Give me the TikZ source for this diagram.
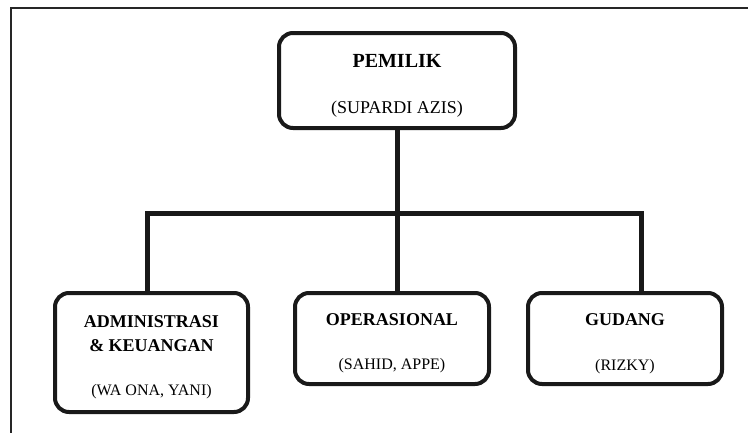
\documentclass[tikz,border=0pt]{standalone}
\usepackage{fontspec}
\setmainfont{Liberation Serif}
\usetikzlibrary{positioning,calc}

\begin{document}
\begin{tikzpicture}[x=1pt, y=-1pt,
        box/.style={rectangle, draw=black!90, line width=4pt, rounded corners=14pt,
            align=center, inner sep=0pt, fill=white},
        conn/.style={draw=black!90, line width=5pt}]

    \useasboundingbox (0,0) rectangle (748,432);
    % outer frame
    \draw[line width=2pt, black!85] (11,8) rectangle (770,460);

    \node[box, minimum width=236pt, minimum height=95pt,
        font=\fontsize{18}{24}\selectfont] (owner) at (397,80.5)
        {\rule{0pt}{24pt}{\fontsize{20}{24}\selectfont\bfseries PEMILIK}\\[22pt](SUPARDI AZIS)};

    \node[box, minimum width=194pt, minimum height=91pt,
        font=\fontsize{16}{24}\selectfont, below=161pt of owner, xshift=-5pt] (ops)
        {\rule{0pt}{22pt}{\fontsize{18}{24}\selectfont\bfseries OPERASIONAL}\\[20pt](SAHID, APPE)};
    \node[box, minimum width=193pt, minimum height=119pt,
        font=\fontsize{16}{24}\selectfont, anchor=north east] (admin) at ([xshift=-43pt]ops.north west)
        {\rule{0pt}{21pt}{\fontsize{18}{24}\selectfont\bfseries ADMINISTRASI}\\{\fontsize{18}{24}\selectfont\bfseries \& KEUANGAN}\\[20pt](WA ONA, YANI)};
    \node[box, minimum width=194pt, minimum height=91pt,
        font=\fontsize{16}{24}\selectfont, anchor=north west] (store) at ([xshift=35pt]ops.north east)
        {\rule{0pt}{22pt}{\fontsize{18}{24}\selectfont\bfseries GUDANG}\\[21pt](RIZKY)};

    % connectors
    \coordinate (bus) at ($(owner.south)+(0,83)$);
    \draw[conn] ([xshift=-4pt]admin.north) |- (bus) -| ([xshift=16pt]store.north);
    \draw[conn] (owner.south) -- (owner.south |- ops.north);

\end{tikzpicture}
\end{document}
